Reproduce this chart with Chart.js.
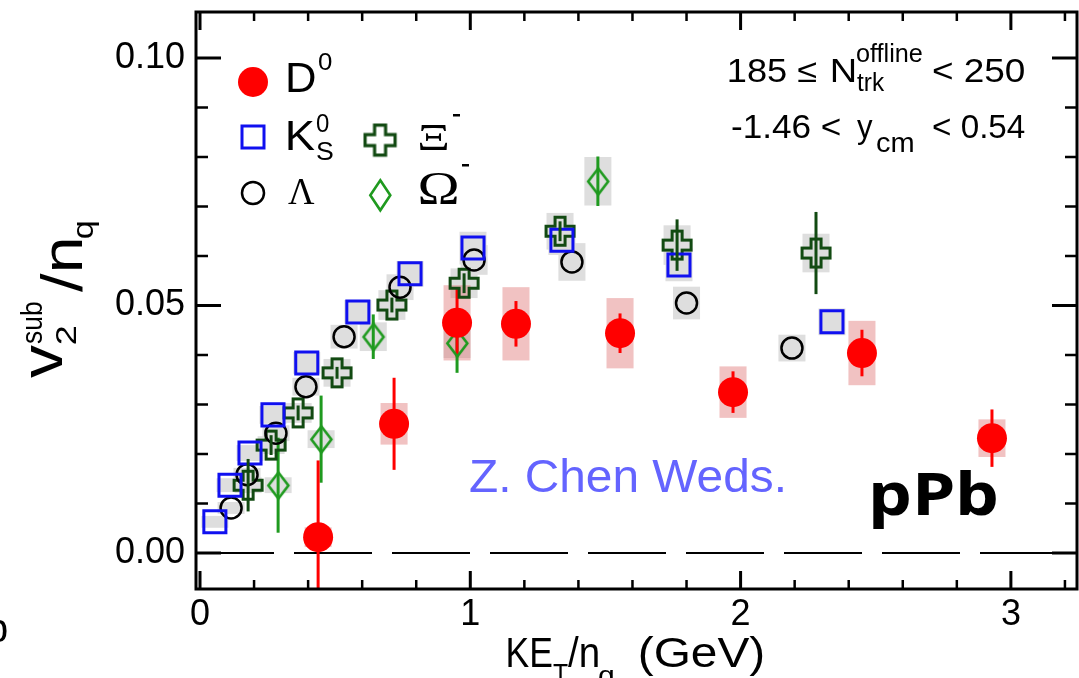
<!DOCTYPE html>
<html><head><meta charset="utf-8">
<script src="https://cdn.jsdelivr.net/npm/chart.js@4.4.1/dist/chart.umd.min.js"></script>
<style>html,body{margin:0;padding:0;background:#fff;overflow:hidden}canvas{display:block}</style>
</head><body>
<canvas id="c" width="1079" height="678"></canvas>
<script>
// ---------------- data ----------------
const xTickVals = [0, 1, 2, 3];
const yTickVals = [0, 0.05, 0.10];

const d0X    = [0.437, 0.718, 0.951, 1.169, 1.554, 1.972, 2.449, 2.930];
const d0Y    = [0.0032, 0.0261, 0.0465, 0.0463, 0.0444, 0.0325, 0.0404, 0.0232];
const d0Stat = [0.0155, 0.0093, 0.0068, 0.0046, 0.0040, 0.0042, 0.0047, 0.0058];
const d0Sys  = [0.0020, 0.0042, 0.0076, 0.0074, 0.0071, 0.0052, 0.0065, 0.0038];

const ksX   = [0.055, 0.111, 0.185, 0.270, 0.395, 0.584, 0.777, 1.010, 1.339, 1.772, 2.338];
const ksY   = [0.0063, 0.0137, 0.0202, 0.0279, 0.0384, 0.0487, 0.0564, 0.0616, 0.0632, 0.0582, 0.0467];
const ksSys = [0.0012, 0.0014, 0.0016, 0.0018, 0.0022, 0.0024, 0.0026, 0.0033, 0.0030, 0.0033, 0.0027];

const laX   = [0.115, 0.174, 0.281, 0.392, 0.533, 0.740, 1.014, 1.376, 1.800, 2.190];
const laY   = [0.0091, 0.0158, 0.0242, 0.0336, 0.0437, 0.0537, 0.0592, 0.0588, 0.0505, 0.0414];
const laSys = [0.0012, 0.0014, 0.0016, 0.0018, 0.0024, 0.0026, 0.0030, 0.0038, 0.0033, 0.0027];

const xiX    = [0.178, 0.263, 0.363, 0.507, 0.710, 0.977, 1.332, 1.765, 2.279];
const xiY    = [0.0137, 0.0218, 0.0283, 0.0364, 0.0501, 0.0545, 0.0650, 0.0622, 0.0606];
const xiStat = [0.0053, 0.0020, 0.0015, 0.0012, 0.0015, 0.0020, 0.0020, 0.0052, 0.0083];
const xiSys  = [0.0016, 0.0018, 0.0020, 0.0028, 0.0030, 0.0030, 0.0037, 0.0040, 0.0039];

const omX    = [0.289, 0.448, 0.641, 0.951, 1.472];
const omY    = [0.0137, 0.0230, 0.0437, 0.0424, 0.0751];
const omStat = [0.0096, 0.0088, 0.0045, 0.0060, 0.0050];
const omSys  = [0.0016, 0.0018, 0.0029, 0.0030, 0.0049];

// ---------------- styles ----------------
const RED = '#ff0000', BLUE = '#1010f0', XIG = '#124a12', OMG = '#1f9a1f';
const GRAY = '#dedede', PINK = 'rgba(225,120,120,0.45)';
const BOX_HW = 0.05;
const SANS = '"Liberation Sans", Arial, sans-serif';
const SERIF = '"Liberation Serif", "Times New Roman", serif';

function crossCanvas(col, a, L, lw) {
  const s = 2 * L + lw + 4, cv = document.createElement('canvas');
  cv.width = s; cv.height = s;
  const g = cv.getContext('2d'); g.translate(s / 2, s / 2);
  g.beginPath();
  const pts = [[-a,-L],[a,-L],[a,-a],[L,-a],[L,a],[a,a],[a,L],[-a,L],[-a,a],[-L,a],[-L,-a],[-a,-a]];
  pts.forEach((p, i) => i ? g.lineTo(p[0], p[1]) : g.moveTo(p[0], p[1]));
  g.closePath(); g.lineWidth = lw; g.strokeStyle = col; g.lineJoin = 'miter'; g.stroke();
  return cv;
}
function diamondCanvas(col, hw, hh, lw) {
  const w = 2 * hw + lw + 4, h = 2 * hh + lw + 4, cv = document.createElement('canvas');
  cv.width = w; cv.height = h;
  const g = cv.getContext('2d'); g.translate(w / 2, h / 2);
  g.beginPath(); g.moveTo(0, -hh); g.lineTo(hw, 0); g.lineTo(0, hh); g.lineTo(-hw, 0); g.closePath();
  g.lineWidth = lw; g.strokeStyle = col; g.stroke();
  return cv;
}
const xiImg = crossCanvas(XIG, 5, 14, 3);
const omImg = diamondCanvas(OMG, 10, 13, 2.6);
const xiLegImg = crossCanvas(XIG, 5.5, 15, 3.2);
const omLegImg = diamondCanvas(OMG, 10, 15, 2.6);

const pts = (xs, ys) => xs.map((x, i) => ({ x: x, y: ys[i] }));

// ---------------- helpers ----------------
function T(ctx, s, x1, x2, base, size, o) {
  o = o || {};
  ctx.save();
  ctx.font = (o.weight || 'normal') + ' ' + size + 'px ' + (o.family || SANS);
  ctx.fillStyle = o.color || '#000';
  ctx.textBaseline = 'alphabetic'; ctx.textAlign = 'left';
  const m = ctx.measureText(s);
  const ink = m.actualBoundingBoxLeft + m.actualBoundingBoxRight;
  if (o.rot) {
    ctx.translate(base, x1); ctx.rotate(-Math.PI / 2);
  } else {
    ctx.translate(x1, base);
  }
  ctx.scale(Math.abs(x2 - x1) / ink, 1);
  ctx.fillText(s, m.actualBoundingBoxLeft, 0);
  ctx.restore();
}

function drawBoxes(c, xs, ys, sys, fill) {
  const ctx = c.ctx, X = c.scales.x, Y = c.scales.y;
  ctx.fillStyle = fill;
  xs.forEach((x, i) => {
    const l = X.getPixelForValue(x - BOX_HW), r = X.getPixelForValue(x + BOX_HW);
    const t = Y.getPixelForValue(ys[i] + sys[i]), b = Y.getPixelForValue(ys[i] - sys[i]);
    ctx.fillRect(l, t, r - l, b - t);
  });
}
function drawBars(c, xs, ys, err, col, lw) {
  const ctx = c.ctx, X = c.scales.x, Y = c.scales.y;
  ctx.strokeStyle = col; ctx.lineWidth = lw; ctx.setLineDash([]);
  xs.forEach((x, i) => {
    const p = X.getPixelForValue(x);
    ctx.beginPath();
    ctx.moveTo(p, Y.getPixelForValue(ys[i] + err[i]));
    ctx.lineTo(p, Y.getPixelForValue(ys[i] - err[i]));
    ctx.stroke();
  });
}
function clipArea(c) {
  const a = c.chartArea; c.ctx.save(); c.ctx.beginPath();
  c.ctx.rect(a.left, a.top, a.right - a.left, a.bottom - a.top); c.ctx.clip();
}

const decor = {
  id: 'decor',
  beforeDatasetsDraw(c) {
    const ctx = c.ctx, a = c.chartArea, Y = c.scales.y;
    clipArea(c);
    drawBoxes(c, ksX, ksY, ksSys, GRAY);
    drawBoxes(c, laX, laY, laSys, GRAY);
    drawBoxes(c, xiX, xiY, xiSys, GRAY);
    drawBoxes(c, omX, omY, omSys, GRAY);
    drawBoxes(c, d0X, d0Y, d0Sys, PINK);
    // dashed zero line
    ctx.strokeStyle = '#000'; ctx.lineWidth = 2; ctx.setLineDash([78, 20]);
    const y0 = Y.getPixelForValue(0);
    ctx.beginPath(); ctx.moveTo(a.left, y0); ctx.lineTo(a.right, y0); ctx.stroke();
    ctx.setLineDash([]);
    drawBars(c, omX, omY, omStat, OMG, 3);
    drawBars(c, d0X, d0Y, d0Stat, RED, 3);
    ctx.restore();
  },
  afterDatasetsDraw(c) {
    const ctx = c.ctx, a = c.chartArea, X = c.scales.x, Y = c.scales.y;
    clipArea(c);
    drawBars(c, xiX, xiY, xiStat, XIG, 3);
    ctx.restore();
    // frame
    ctx.save();
    ctx.strokeStyle = '#000'; ctx.lineWidth = 3; ctx.setLineDash([]);
    ctx.strokeRect(a.left, a.top, a.right - a.left, a.bottom - a.top);
    // y ticks
    for (let k = 0; k <= 10; k++) {
      const v = k * 0.01, p = Y.getPixelForValue(v);
      const major = yTickVals.some(t => Math.abs(t - v) < 1e-9);
      const len = major ? 25 : 12;
      ctx.lineWidth = major ? 3 : 2.5;
      ctx.beginPath();
      ctx.moveTo(a.left, p); ctx.lineTo(a.left + len, p);
      ctx.moveTo(a.right, p); ctx.lineTo(a.right - len, p);
      ctx.stroke();
    }
    // x ticks
    for (let k = 0; k <= 16; k++) {
      const v = k * 0.2, p = X.getPixelForValue(v);
      const major = xTickVals.some(t => Math.abs(t - v) < 1e-9);
      const len = major ? 18 : 9;
      ctx.lineWidth = major ? 3 : 2.5;
      ctx.beginPath();
      ctx.moveTo(p, a.bottom); ctx.lineTo(p, a.bottom - len);
      ctx.moveTo(p, a.top); ctx.lineTo(p, a.top + len);
      ctx.stroke();
    }
    ctx.restore();
  },
  afterDraw(c) {
    const ctx = c.ctx;
    // legend markers
    ctx.save();
    ctx.fillStyle = RED; ctx.beginPath(); ctx.arc(253, 82, 15, 0, 2 * Math.PI); ctx.fill();
    ctx.strokeStyle = BLUE; ctx.lineWidth = 3; ctx.strokeRect(242, 126, 22, 22);
    ctx.strokeStyle = '#000'; ctx.lineWidth = 2.5; ctx.beginPath(); ctx.arc(253, 193, 11, 0, 2 * Math.PI); ctx.stroke();
    ctx.drawImage(xiLegImg, 380 - xiLegImg.width / 2, 140 - xiLegImg.height / 2);
    ctx.drawImage(omLegImg, 380 - omLegImg.width / 2, 195 - omLegImg.height / 2);
    ctx.restore();
    // legend text
    T(ctx, 'D', 288, 315, 92, 42);
    T(ctx, '0', 318, 332, 70, 24);
    T(ctx, 'K', 288, 315, 150, 42);
    T(ctx, '0', 317, 329, 132, 26);
    T(ctx, 'S', 317, 333, 160, 25);
    T(ctx, '\u039E', 420, 448, 150, 38, { family: SERIF });
    ctx.fillStyle = '#000'; ctx.fillRect(453, 114, 7, 2.5);
    T(ctx, '\u039B', 288, 315, 204, 38, { family: SERIF });
    T(ctx, '\u03A9', 420, 457, 204, 46, { family: SERIF });
    ctx.fillRect(462, 164, 7, 2.5);
    // top-right texts
    T(ctx, '185 \u2264', 729, 817, 82, 33);
    T(ctx, 'N', 832, 855, 82, 33);
    T(ctx, 'offline', 857, 922, 62, 25);
    T(ctx, 'trk', 857, 885, 91, 26);
    T(ctx, '< 250', 933, 1025, 82, 33);
    T(ctx, '-1.46 <', 732, 840, 138, 33);
    T(ctx, 'y', 857, 873, 138, 33);
    T(ctx, 'cm', 877, 913, 152, 27);
    T(ctx, '< 0.54', 933, 1025, 138, 33);
    // annotations
    T(ctx, 'Z. Chen Weds.', 470, 783, 492, 46, { color: '#6464ff' });
    T(ctx, 'pPb', 873, 997, 515, 60, { weight: 'bold', family: '"Noto Sans", "Open Sans", sans-serif' });
    // x title
    T(ctx, 'KE', 508, 552, 667, 42);
    T(ctx, 'T', 553, 568, 683, 28);
    T(ctx, '/n', 568, 598, 667, 42);
    T(ctx, 'q', 599, 613, 685, 28);
    T(ctx, '(GeV)', 640, 763, 667, 42);
    // y title (rotated)
    T(ctx, 'v', 378, 345, 62, 60, { rot: true });
    T(ctx, '2', 344, 326, 76, 30, { rot: true });
    T(ctx, 'sub', 344, 302, 42, 30, { rot: true });
    T(ctx, '/n', 292, 240, 82, 58, { rot: true });
    T(ctx, 'q', 238, 222, 93, 30, { rot: true });
    // cut-off fragment at lower left
    T(ctx, 'b', -12, 7, 642, 40);
  }
};

new Chart(document.getElementById('c'), {
  type: 'scatter',
  data: {
    datasets: [
      { label: 'D0', data: pts(d0X, d0Y), pointStyle: 'circle', pointRadius: 15, backgroundColor: RED, borderColor: RED, borderWidth: 0 },
      { label: 'K0S', data: pts(ksX, ksY), pointStyle: 'rect', pointRadius: 15.6, backgroundColor: 'rgba(0,0,0,0)', borderColor: BLUE, borderWidth: 3 },
      { label: 'Lambda', data: pts(laX, laY), pointStyle: 'circle', pointRadius: 10.5, backgroundColor: 'rgba(0,0,0,0)', borderColor: '#000', borderWidth: 2.5 },
      { label: 'Xi', data: pts(xiX, xiY), pointStyle: xiImg, pointRadius: 14 },
      { label: 'Omega', data: pts(omX, omY), pointStyle: omImg, pointRadius: 13 }
    ]
  },
  options: {
    responsive: false, animation: false, devicePixelRatio: 1,
    layout: { autoPadding: false, padding: { left: 0, right: 2, top: 12, bottom: 0 } },
    plugins: { legend: { display: false }, tooltip: { enabled: false } },
    scales: {
      x: {
        type: 'linear', min: -0.0148, max: 3.2446,
        afterBuildTicks: s => { s.ticks = xTickVals.map(v => ({ value: v })); },
        afterFit: s => { s.height = 89; s.paddingLeft = 0; s.paddingRight = 0; s.paddingTop = 0; s.paddingBottom = 0; },
        grid: { display: false, drawTicks: false }, border: { display: false },
        ticks: { color: '#000', padding: 4, maxRotation: 0, font: { family: SANS, size: 36 }, callback: v => String(v) }
      },
      y: {
        type: 'linear', min: -0.00727, max: 0.10929,
        afterBuildTicks: s => { s.ticks = yTickVals.map(v => ({ value: v })); },
        afterFit: s => { s.width = 196; s.paddingLeft = 0; s.paddingRight = 0; s.paddingTop = 0; s.paddingBottom = 0; },
        grid: { display: false, drawTicks: false }, border: { display: false },
        ticks: { color: '#000', padding: 11, font: { family: SANS, size: 36 }, callback: v => v.toFixed(2) }
      }
    }
  },
  plugins: [decor]
});
</script></body></html>
